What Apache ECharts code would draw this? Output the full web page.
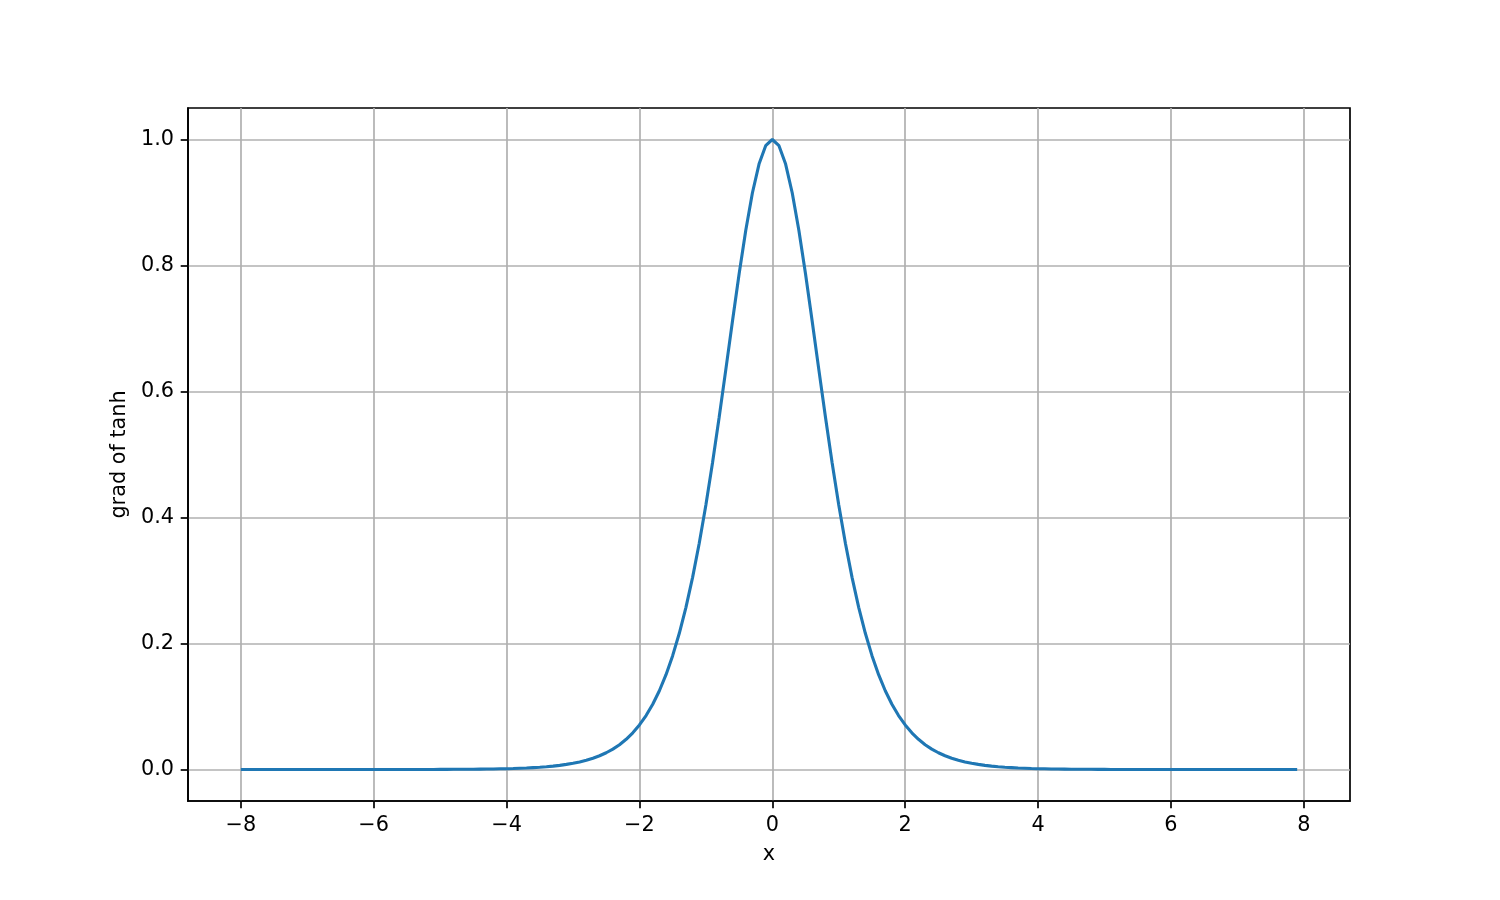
<!DOCTYPE html>
<html>
<head>
<meta charset="utf-8">
<script src="https://cdn.jsdelivr.net/npm/echarts@6/dist/echarts.min.js"></script>
<style>html,body{margin:0;padding:0;background:#fff}#c{width:1500px;height:900px}</style>
</head>
<body>
<div id="c"></div>
<script>
const xValues = [
-8.0,-7.9,-7.8,-7.7,-7.6,-7.5,-7.4,-7.3,-7.2,-7.1,
-7.0,-6.9,-6.8,-6.7,-6.6,-6.5,-6.4,-6.3,-6.2,-6.1,
-6.0,-5.9,-5.8,-5.7,-5.6,-5.5,-5.4,-5.3,-5.2,-5.1,
-5.0,-4.9,-4.8,-4.7,-4.6,-4.5,-4.4,-4.3,-4.2,-4.1,
-4.0,-3.9,-3.8,-3.7,-3.6,-3.5,-3.4,-3.3,-3.2,-3.1,
-3.0,-2.9,-2.8,-2.7,-2.6,-2.5,-2.4,-2.3,-2.2,-2.1,
-2.0,-1.9,-1.8,-1.7,-1.6,-1.5,-1.4,-1.3,-1.2,-1.1,
-1.0,-0.9,-0.8,-0.7,-0.6,-0.5,-0.4,-0.3,-0.2,-0.1,
0.0,0.1,0.2,0.3,0.4,0.5,0.6,0.7,0.8,0.9,
1.0,1.1,1.2,1.3,1.4,1.5,1.6,1.7,1.8,1.9,
2.0,2.1,2.2,2.3,2.4,2.5,2.6,2.7,2.8,2.9,
3.0,3.1,3.2,3.3,3.4,3.5,3.6,3.7,3.8,3.9,
4.0,4.1,4.2,4.3,4.4,4.5,4.6,4.7,4.8,4.9,
5.0,5.1,5.2,5.3,5.4,5.5,5.6,5.7,5.8,5.9,
6.0,6.1,6.2,6.3,6.4,6.5,6.6,6.7,6.8,6.9,
7.0,7.1,7.2,7.3,7.4,7.5,7.6,7.7,7.8,7.9
];
const gradTanh = [
0.0000,0.0000,0.0000,0.0000,0.0000,0.0000,0.0000,0.0000,0.0000,0.0000,
0.0000,0.0000,0.0000,0.0000,0.0000,0.0000,0.0000,0.0000,0.0000,0.0000,
0.0000,0.0000,0.0000,0.0000,0.0001,0.0001,0.0001,0.0001,0.0001,0.0001,
0.0002,0.0002,0.0003,0.0003,0.0004,0.0005,0.0006,0.0007,0.0009,0.0011,
0.0013,0.0016,0.0020,0.0024,0.0030,0.0036,0.0044,0.0054,0.0066,0.0081,
0.0099,0.0120,0.0147,0.0179,0.0218,0.0266,0.0324,0.0394,0.0479,0.0582,
0.0707,0.0856,0.1036,0.1250,0.1505,0.1807,0.2162,0.2574,0.3050,0.3592,
0.4200,0.4869,0.5591,0.6347,0.7116,0.7864,0.8556,0.9151,0.9610,0.9901,
1.0000,0.9901,0.9610,0.9151,0.8556,0.7864,0.7116,0.6347,0.5591,0.4869,
0.4200,0.3592,0.3050,0.2574,0.2162,0.1807,0.1505,0.1250,0.1036,0.0856,
0.0707,0.0582,0.0479,0.0394,0.0324,0.0266,0.0218,0.0179,0.0147,0.0120,
0.0099,0.0081,0.0066,0.0054,0.0044,0.0036,0.0030,0.0024,0.0020,0.0016,
0.0013,0.0011,0.0009,0.0007,0.0006,0.0005,0.0004,0.0003,0.0003,0.0002,
0.0002,0.0001,0.0001,0.0001,0.0001,0.0001,0.0001,0.0000,0.0000,0.0000,
0.0000,0.0000,0.0000,0.0000,0.0000,0.0000,0.0000,0.0000,0.0000,0.0000,
0.0000,0.0000,0.0000,0.0000,0.0000,0.0000,0.0000,0.0000,0.0000,0.0000
];
const xTicks = [-8, -6, -4, -2, 0, 2, 4, 6, 8];
const yTicks = [0.0, 0.2, 0.4, 0.6, 0.8, 1.0];
const xLabel = 'x';
const yLabel = 'grad of tanh';

const FONT = 'DejaVu Sans';
const FS = 20.8;
const fmtMinus = s => String(s).replace('-', '\u2212');

const chart = echarts.init(document.getElementById('c'), null, {renderer: 'canvas'});
chart.setOption({
  animation: false,
  backgroundColor: '#ffffff',
  grid: {
    left: 188, right: 150, top: 108, bottom: 99,
    show: true, borderColor: '#000', borderWidth: 1.7, backgroundColor: 'transparent'
  },
  xAxis: {
    type: 'value',
    min: -8.795, max: 8.695,
    name: xLabel,
    nameLocation: 'middle',
    nameGap: 43,
    nameTextStyle: {fontFamily: FONT, fontSize: FS, color: '#000'},
    axisLine: {show: true, onZero: false, lineStyle: {color: '#000', width: 1.7}},
    axisTick: {show: true, inside: false, length: 7.3, lineStyle: {color: '#000', width: 1.7}, customValues: xTicks},
    axisLabel: {
      customValues: xTicks, margin: 14,
      fontFamily: FONT, fontSize: FS, color: '#000',
      formatter: v => fmtMinus(Math.round(v))
    },
    splitLine: {show: true, lineStyle: {color: '#b0b0b0', width: 1.7}}
  },
  yAxis: {
    type: 'value',
    min: -0.05, max: 1.05,
    name: yLabel,
    nameLocation: 'middle',
    nameGap: 57,
    nameTextStyle: {fontFamily: FONT, fontSize: FS, color: '#000'},
    axisLine: {show: true, onZero: false, lineStyle: {color: '#000', width: 1.7}},
    axisTick: {show: true, inside: false, length: 7.3, lineStyle: {color: '#000', width: 1.7}, customValues: yTicks},
    axisLabel: {
      customValues: yTicks, margin: 14,
      fontFamily: FONT, fontSize: FS, color: '#000',
      formatter: v => fmtMinus(v.toFixed(1))
    },
    splitLine: {show: true, lineStyle: {color: '#b0b0b0', width: 1.7}}
  },
  series: [{
    type: 'line',
    data: xValues.map((x, i) => [x, gradTanh[i]]),
    showSymbol: false,
    symbol: 'none',
    lineStyle: {color: '#1f77b4', width: 3.1},
    clip: true
  }]
});
</script>
</body>
</html>
